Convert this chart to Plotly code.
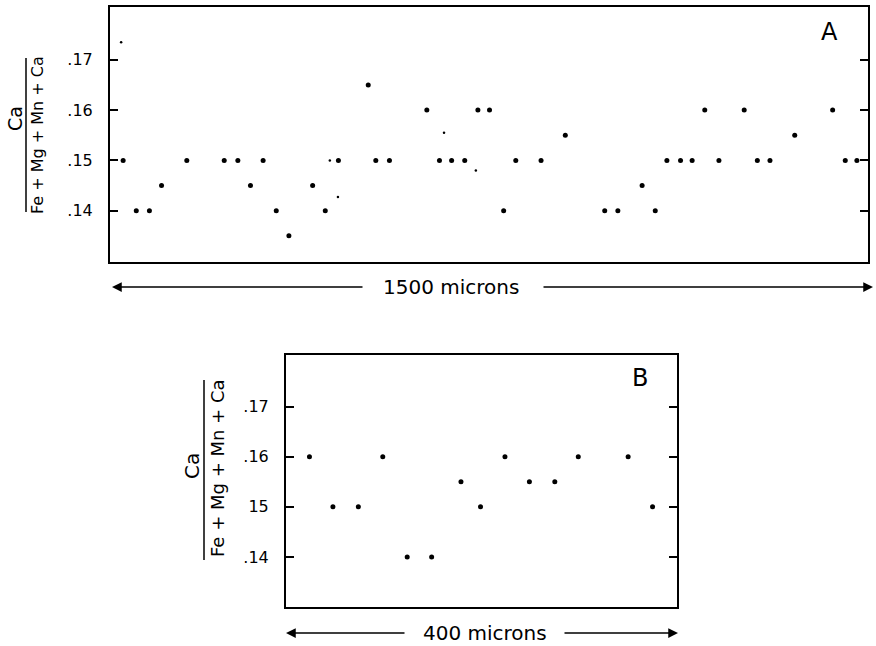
import plotly.graph_objects as go

# ---- data (positions in microns, ratio values) ----
a_pos = [26, 52, 78, 102, 152, 226, 253, 278, 303, 329, 354, 401, 426, 452,
         511, 526, 553, 627, 652, 676, 702, 728, 751, 779, 803, 853, 901,
         979, 1005, 1053, 1079, 1102, 1129, 1152, 1177, 1205, 1255, 1281,
         1306, 1355, 1430, 1455, 1478]
a_val = [0.150, 0.140, 0.140, 0.145, 0.150, 0.150, 0.150, 0.145, 0.150, 0.140,
         0.135, 0.145, 0.140, 0.150, 0.165, 0.150, 0.150, 0.160, 0.150, 0.150,
         0.150, 0.160, 0.160, 0.140, 0.150, 0.150, 0.155, 0.140, 0.140, 0.145,
         0.140, 0.150, 0.150, 0.150, 0.160, 0.150, 0.160, 0.150, 0.150, 0.155,
         0.160, 0.150, 0.150]
a_small_pos = [22, 435, 451, 661, 724]
a_small_val = [0.1735, 0.150, 0.1427, 0.1555, 0.148]

b_pos = [24, 48, 74, 99, 124, 149, 179, 199, 224, 249, 275, 299, 350, 375]
b_val = [0.160, 0.150, 0.150, 0.160, 0.140, 0.140, 0.155, 0.150, 0.160,
         0.155, 0.155, 0.160, 0.160, 0.150]

y_tickvals = [0.14, 0.15, 0.16, 0.17]
a_ticktext = [".14", ".15", ".16", ".17"]
b_ticktext = [".14", "15", ".16", ".17"]

W, H = 876, 646
FONT = "DejaVu Sans"

def px(x):
    return x / W

def py(y):
    return 1 - y / H

fig = go.Figure()
fig.add_trace(go.Scatter(x=a_pos, y=a_val, mode="markers",
                         marker=dict(color="black", size=5), xaxis="x", yaxis="y"))
fig.add_trace(go.Scatter(x=a_small_pos, y=a_small_val, mode="markers",
                         marker=dict(color="black", size=2.5), xaxis="x", yaxis="y"))
fig.add_trace(go.Scatter(x=b_pos, y=b_val, mode="markers",
                         marker=dict(color="black", size=5), xaxis="x2", yaxis="y2"))

xcommon = dict(showline=True, linewidth=2, linecolor="black", mirror=True,
               showgrid=False, zeroline=False, ticks="", showticklabels=False)
ycommon = dict(showline=True, linewidth=2, linecolor="black", mirror="ticks",
               showgrid=False, zeroline=False, ticks="inside", ticklen=8,
               tickwidth=1.5, tickcolor="black", tickvals=y_tickvals,
               ticklabelstandoff=12,
               tickfont=dict(family=FONT, size=16, color="black"))

fig.update_layout(
    width=W, height=H, margin=dict(l=0, r=0, t=0, b=0),
    paper_bgcolor="white", plot_bgcolor="white", showlegend=False,
    xaxis=dict(domain=[px(110), px(868)], range=[0, 1500], anchor="y", **xcommon),
    yaxis=dict(domain=[py(262), py(7)], range=[0.1298, 0.1805], anchor="x",
               ticktext=a_ticktext, **ycommon),
    xaxis2=dict(domain=[px(286), px(677)], range=[0, 400], anchor="y2", **xcommon),
    yaxis2=dict(domain=[py(607), py(355)], range=[0.130, 0.1803], anchor="x2",
                ticktext=b_ticktext, **ycommon),
)

ann = []
shapes = []
tf = dict(family=FONT, size=20, color="black")
C = dict(xref="paper", yref="paper", xanchor="center", yanchor="middle")

# panel letters
ann.append(dict(text="A", x=px(829), y=py(32), showarrow=False,
                font=dict(family=FONT, size=24, color="black"), **C))
ann.append(dict(text="B", x=px(640), y=py(378), showarrow=False,
                font=dict(family=FONT, size=24, color="black"), **C))

# y-axis fraction titles
def fraction(xnum, xline, xden, ycen, nshift, y0, y1, nsize, dsize):
    ann.append(dict(text="Ca", x=px(xnum), y=py(ycen - nshift), textangle=-90,
                    showarrow=False, font=dict(family=FONT, size=nsize, color="black"), **C))
    ann.append(dict(text="Fe + Mg + Mn + Ca", x=px(xden), y=py(ycen), textangle=-90,
                    showarrow=False, font=dict(family=FONT, size=dsize, color="black"), **C))
    shapes.append(dict(type="line", xref="paper", yref="paper",
                       x0=px(xline), x1=px(xline), y0=py(y0), y1=py(y1),
                       line=dict(color="black", width=1.5)))

fraction(15, 26, 38, 135, 16, 58, 212, 19, 16)
fraction(192, 204, 217, 468, 2, 380, 560, 20, 18)

# length arrows
def span(xl0, xl1, xtext, xr0, xr1, y, label):
    ann.append(dict(text="", x=px(xl0), y=py(y), ax=xl1 - xl0, ay=0, showarrow=True,
                    arrowhead=2, arrowsize=1.3, arrowwidth=1.5, arrowcolor="black",
                    standoff=0, xref="paper", yref="paper"))
    ann.append(dict(text="", x=px(xr1), y=py(y), ax=xr0 - xr1, ay=0, showarrow=True,
                    arrowhead=2, arrowsize=1.3, arrowwidth=1.5, arrowcolor="black",
                    standoff=0, xref="paper", yref="paper"))
    ann.append(dict(text=label, x=px(xtext), y=py(y), showarrow=False, font=tf, **C))

span(112, 364, 451, 542, 873, 287, "1500 microns")
span(286, 406, 485, 563, 678, 633, "400 microns")

fig.update_layout(annotations=ann, shapes=shapes)
fig.write_html("out.html")
